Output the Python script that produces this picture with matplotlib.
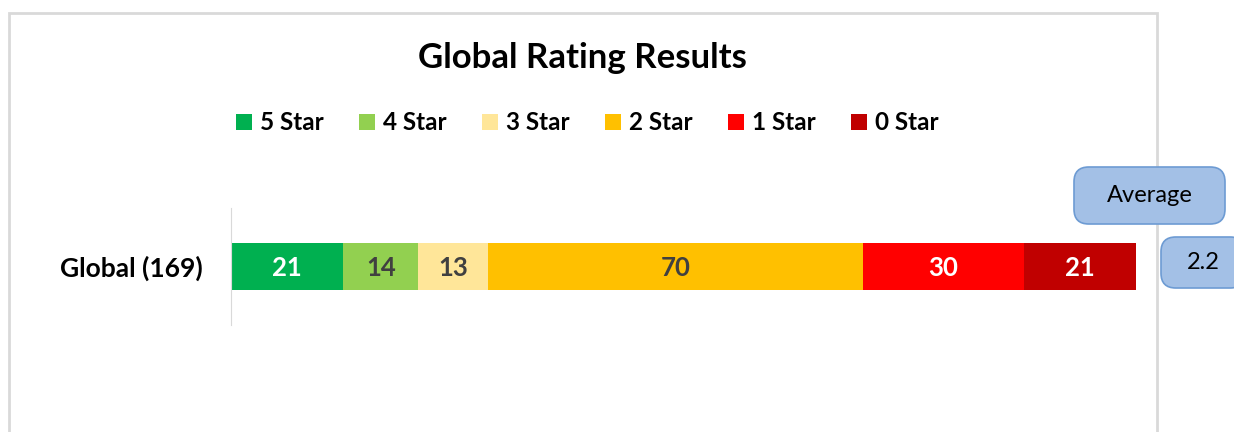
import matplotlib.pyplot as plt
from matplotlib.patches import FancyBboxPatch, Rectangle

# data
categories = ["5 Star", "4 Star", "3 Star", "2 Star", "1 Star", "0 Star"]
counts = [21, 14, 13, 70, 30, 21]
colors = ["#00B050", "#92D050", "#FFE699", "#FFC000", "#FF0000", "#C00000"]
label_colors = ["white", "#404040", "#404040", "#404040", "white", "white"]
row_label = "Global (169)"
average = 2.2

plt.rcParams['font.family'] = ['Lato', 'DejaVu Sans']

W, H = 1234, 432
fig = plt.figure(figsize=(W / 100, H / 100), dpi=100)
fig.patch.set_facecolor("white")

def px(x0, y0, x1, y1):
    # pixel box (top-left origin) -> figure fraction rect
    return [x0 / W, 1 - y1 / H, (x1 - x0) / W, (y1 - y0) / H]

# outer chart frame
fig.patches.append(Rectangle((9 / W, -0.1), (1157 - 9) / W, 1.1 - 13 / H,
                             transform=fig.transFigure, fill=False,
                             edgecolor="#d9d9d9", linewidth=2))

ax = fig.add_axes(px(231, 208, 1136, 325))
left = 0
for c, v, col, lc in zip(categories, counts, colors, label_colors):
    ax.barh(0, v, left=left, height=0.40, color=col, label=c)
    ax.text(left + v / 2, -0.01, str(v), ha="center", va="center",
            color=lc, fontsize=18.5, fontweight="bold")
    left += v
ax.set_xlim(0, sum(counts))
ax.set_ylim(-0.5, 0.5)
ax.set_xticks([])
ax.set_yticks([0])
ax.set_yticklabels([row_label], fontsize=19, fontweight="bold")
ax.tick_params(axis="y", length=0, pad=20)
for s in ["top", "right", "bottom"]:
    ax.spines[s].set_visible(False)
ax.spines["left"].set_color("#d9d9d9")

fig.text(582 / W, 1 - 58 / H, "Global Rating Results", ha="center", va="center",
         fontsize=25, fontweight="bold")

leg = fig.legend(loc="center", bbox_to_anchor=(587 / W, 1 - 123 / H), ncol=6,
                 frameon=False, handlelength=0.66, handleheight=0.66,
                 handletextpad=0.33, columnspacing=1.45,
                 prop={"size": 17.5, "weight": "bold"})

# average boxes
def box(x0, y0, x1, y1, text):
    r = px(x0, y0, x1, y1)
    p = FancyBboxPatch((r[0], r[1]), r[2], r[3],
                       boxstyle="round,pad=0,rounding_size=0.012",
                       transform=fig.transFigure, facecolor="#a3c0e6",
                       edgecolor="#6d9bd3", linewidth=1.2,
                       mutation_aspect=W / H)
    fig.patches.append(p)
    fig.text(r[0] + r[2] / 2, r[1] + r[3] / 2, text, ha="center", va="center",
             fontsize=17)

box(1074, 167, 1225, 224, "Average")
box(1161, 237, 1245, 288, str(average))

fig.savefig("out.png", dpi=100)
